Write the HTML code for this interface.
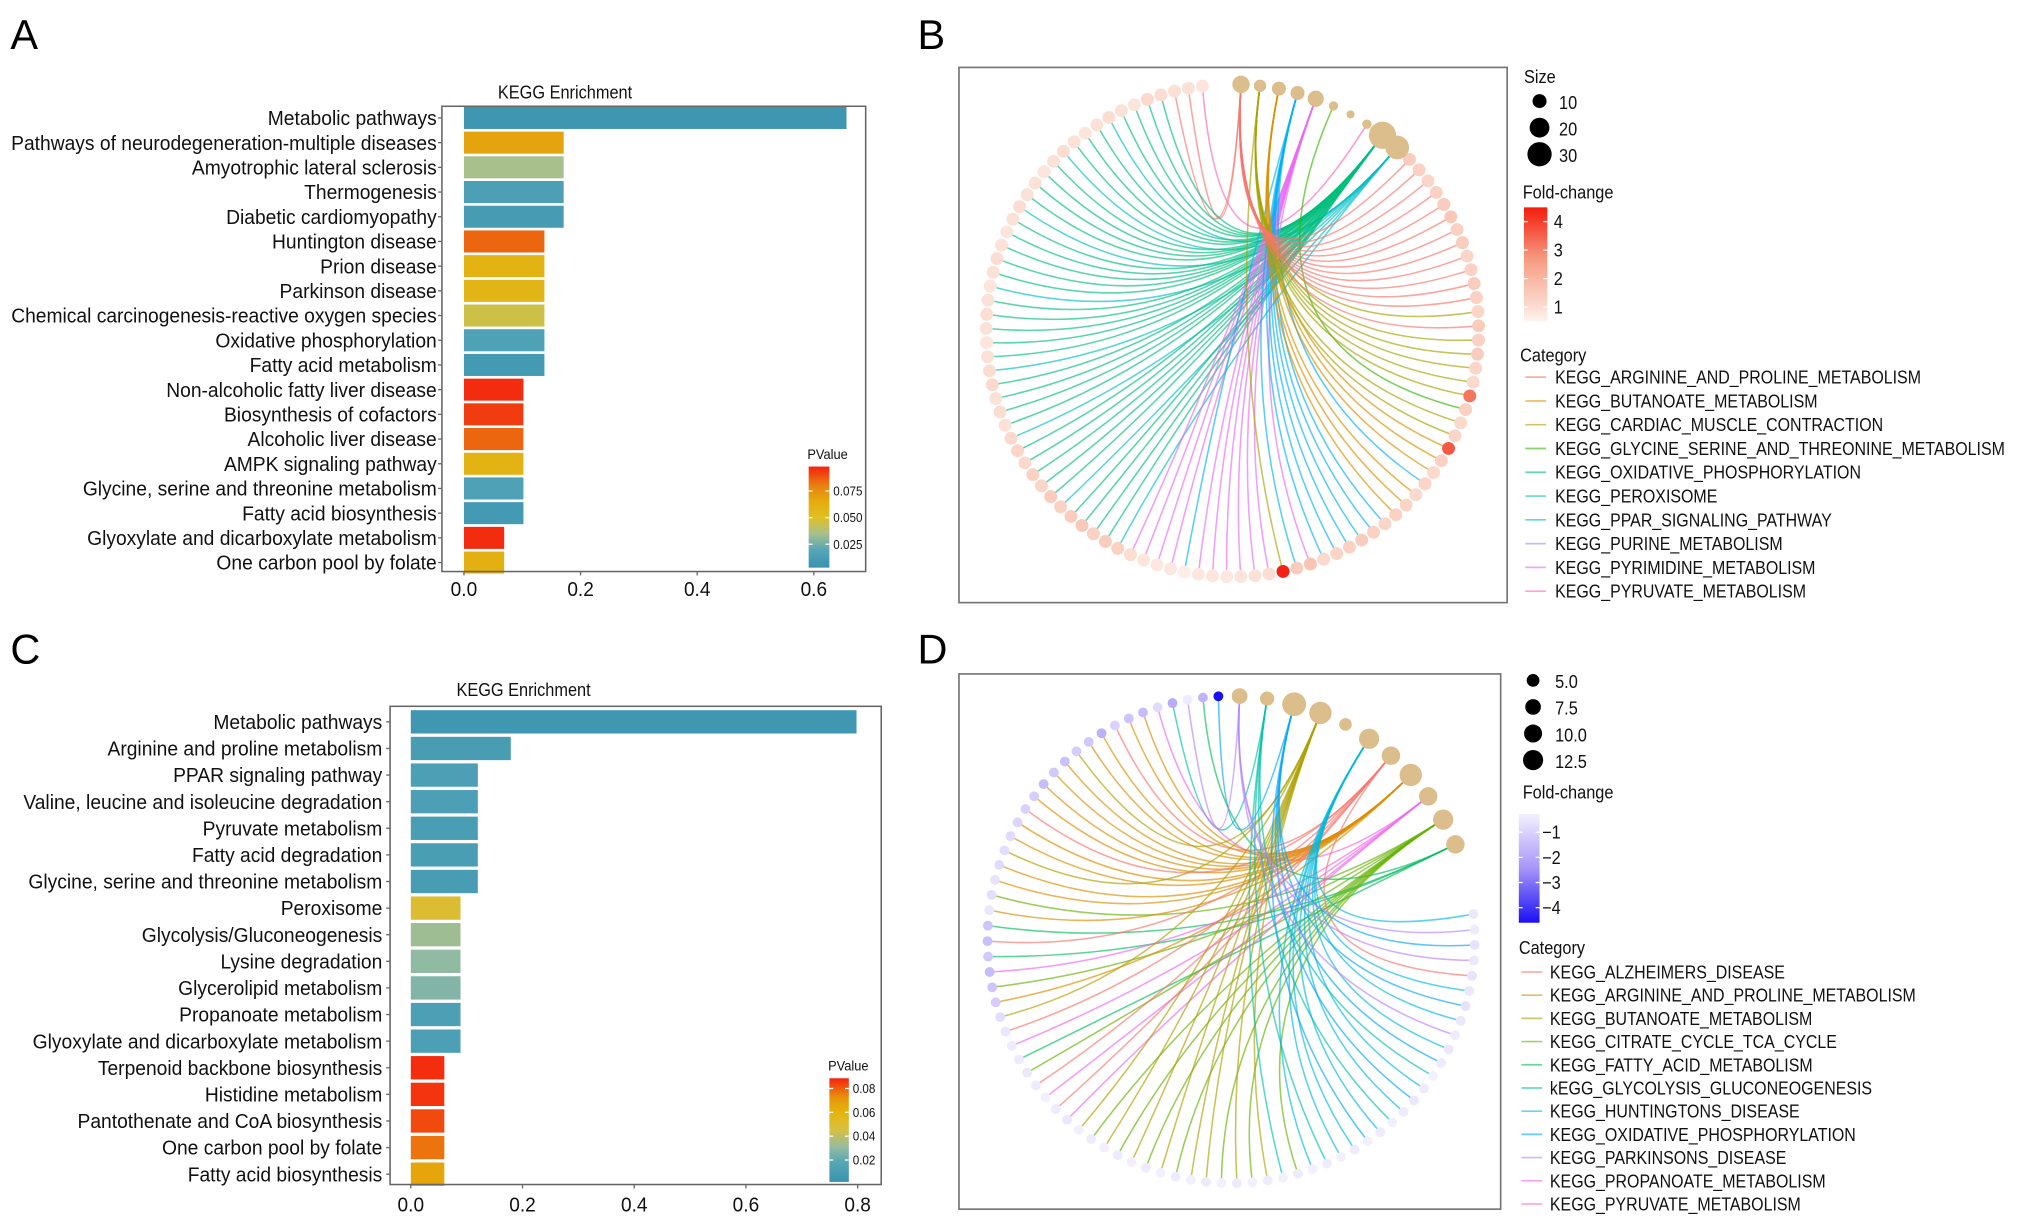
<!DOCTYPE html>
<html><head><meta charset="utf-8">
<style>
html,body{margin:0;padding:0;background:#fff;}
svg{display:block;font-family:"Liberation Sans",Arial,sans-serif;}
</style></head>
<body>
<svg id="fig" width="2032" height="1226" viewBox="0 0 1568 946" preserveAspectRatio="none" xmlns="http://www.w3.org/2000/svg">
<defs>
<linearGradient id="gradA" x1="0" y1="1" x2="0" y2="0"></linearGradient>
<linearGradient id="gradC" x1="0" y1="1" x2="0" y2="0"></linearGradient>
<linearGradient id="gradB" x1="0" y1="1" x2="0" y2="0">
<stop offset="0" stop-color="#fff4f0"/><stop offset="0.15" stop-color="#fbd9cd"/><stop offset="0.55" stop-color="#f69a80"/><stop offset="1" stop-color="#f41c0c"/>
</linearGradient>
<linearGradient id="gradD" x1="0" y1="0" x2="0" y2="1">
<stop offset="0" stop-color="#f3f1fe"/><stop offset="0.5" stop-color="#a795f8"/><stop offset="1" stop-color="#1a10f5"/>
</linearGradient>
</defs>
<text x="8" y="38" font-size="32">A</text>
<text x="708" y="38" font-size="32">B</text>
<text x="8" y="512" font-size="32">C</text>
<text x="708" y="512" font-size="32">D</text>
</svg>
<script>
// ---------- Panel A data ----------
const aCategories = ["Metabolic pathways","Pathways of neurodegeneration-multiple diseases","Amyotrophic lateral sclerosis","Thermogenesis","Diabetic cardiomyopathy","Huntington disease","Prion disease","Parkinson disease","Chemical carcinogenesis-reactive oxygen species","Oxidative phosphorylation","Fatty acid metabolism","Non-alcoholic fatty liver disease","Biosynthesis of cofactors","Alcoholic liver disease","AMPK signaling pathway","Glycine, serine and threonine metabolism","Fatty acid biosynthesis","Glyoxylate and dicarboxylate metabolism","One carbon pool by folate"];
const aValues = [0.656,0.171,0.171,0.171,0.171,0.138,0.138,0.138,0.138,0.138,0.138,0.102,0.102,0.102,0.102,0.102,0.102,0.069,0.069];
const aPvalues = [0.006,0.068,0.035,0.014,0.011,0.085,0.060,0.058,0.045,0.016,0.009,0.096,0.093,0.085,0.060,0.016,0.009,0.096,0.062];
const aTicks = [0,0.2,0.4,0.6];
const aLegendTicks = [0.025,0.050,0.075];
const aLegendTickLabels = ["0.025","0.050","0.075"];
// ---------- Panel C data ----------
const cCategories = ["Metabolic pathways","Arginine and proline metabolism","PPAR signaling pathway","Valine, leucine and isoleucine degradation","Pyruvate metabolism","Fatty acid degradation","Glycine, serine and threonine metabolism","Peroxisome","Glycolysis/Gluconeogenesis","Lysine degradation","Glycerolipid metabolism","Propanoate metabolism","Glyoxylate and dicarboxylate metabolism","Terpenoid backbone biosynthesis","Histidine metabolism","Pantothenate and CoA biosynthesis","One carbon pool by folate","Fatty acid biosynthesis"];
const cValues = [0.798,0.179,0.120,0.120,0.120,0.120,0.120,0.089,0.089,0.089,0.089,0.089,0.089,0.060,0.060,0.060,0.060,0.060];
const cPvalues = [0.005,0.010,0.012,0.012,0.011,0.011,0.010,0.050,0.033,0.030,0.027,0.012,0.012,0.087,0.086,0.083,0.077,0.066];
const cTicks = [0,0.2,0.4,0.6,0.8];
const cLegendTicks = [0.02,0.04,0.06,0.08];
const cLegendTickLabels = ["0.02","0.04","0.06","0.08"];
// ---------- Panel B data ----------
const bCategoryNames = ["KEGG_ARGININE_AND_PROLINE_METABOLISM","KEGG_BUTANOATE_METABOLISM","KEGG_CARDIAC_MUSCLE_CONTRACTION","KEGG_GLYCINE_SERINE_AND_THREONINE_METABOLISM","KEGG_OXIDATIVE_PHOSPHORYLATION","KEGG_PEROXISOME","KEGG_PPAR_SIGNALING_PATHWAY","KEGG_PURINE_METABOLISM","KEGG_PYRIMIDINE_METABOLISM","KEGG_PYRUVATE_METABOLISM"];
const bCategorySize = [14,9,7,4,34,26,9,3,12,4];
const bCategoryOrder = [0,2,1,6,8,3,7,9,4,5];
const bGeneFold = [0.7,0.8,0.8,0.9,1.0,0.7,0.8,0.9,0.8,0.7,0.8,0.9,0.8,0.7,0.8,0.8,0.9,0.8,0.7,0.8,0.9,0.8,0.7,0.8,0.9,0.8,0.7,0.8,0.9,1.0,0.8,0.9,0.8,1.0,1.1,1.0,1.2,1.1,1.3,1.2,1.3,1.4,1.2,1.3,1.2,0.9,0.7,0.6,0.6,0.5,0.6,0.7,0.6,0.7,0.8,0.9,4.5,1.3,1.5,1.0,1.1,1.2,1.3,1.2,1.1,1.2,1.1,1.0,1.1,1.0,1.2,3.6,1.1,1.0,1.2,3.1,1.0,1.1,1.3,1.2,1.3,1.1,1.2,1.3,1.2,1.1,1.3,1.2,1.4,1.3,1.2,1.1,1.2,1.3];
const bGeneCategory = [9,0,0,4,4,4,4,5,4,4,4,5,4,4,4,4,5,4,4,4,4,4,5,4,4,4,4,4,5,4,4,4,4,5,4,4,4,4,4,5,4,4,4,4,5,8,8,8,8,6,8,8,8,8,8,8,2,6,8,6,6,6,6,6,6,1,1,1,6,1,1,1,2,2,3,2,2,2,2,2,0,2,0,0,0,0,0,0,0,0,0,0,0,0];
const bSizeLegend = [10,20,30];
const bFoldTicks = [1,2,3,4];
// ---------- Panel D data ----------
const dCategoryNames = ["KEGG_ALZHEIMERS_DISEASE","KEGG_ARGININE_AND_PROLINE_METABOLISM","KEGG_BUTANOATE_METABOLISM","KEGG_CITRATE_CYCLE_TCA_CYCLE","KEGG_FATTY_ACID_METABOLISM","kEGG_GLYCOLYSIS_GLUCONEOGENESIS","KEGG_HUNTINGTONS_DISEASE","KEGG_OXIDATIVE_PHOSPHORYLATION","KEGG_PARKINSONS_DISEASE","KEGG_PROPANOATE_METABOLISM","KEGG_PYRUVATE_METABOLISM"];
const dCategorySize = [7.5,11,11,9,7.5,4.5,9,12.5,5.5,7.5,3.5];
const dCategoryOrder = [8,5,7,2,10,6,0,1,9,3,4];
const dGeneFold = [-4.6,-1.8,-0.5,-2.0,-0.9,-1.6,-1.4,-1.1,-1.9,-1.3,-1.2,-1.5,-1.3,-1.6,-1.2,-1.1,-1.0,-0.9,-0.8,-0.9,-0.7,-0.8,-0.6,-1.4,-1.5,-1.3,-1.6,-1.4,-1.2,-0.8,-0.6,-0.5,-0.5,-0.6,-0.5,-0.4,-0.5,-0.6,-0.4,-0.5,-0.4,-0.5,-0.4,-0.5,-0.4,-0.5,-0.4,-0.5,-0.4,-0.5,-0.4,-0.5,-0.4,-0.5,-0.4,-0.5,-0.4,-0.5,-0.4,-0.5,-0.4,-0.5,-0.6,-0.5,-0.4,-0.5,-0.6,-0.5,-0.6,-0.7,-0.6,-0.7,-0.6,-0.7,-0.5,-0.6];
const dGeneCategory = [7,4,8,5,9,1,1,0,1,1,2,1,1,1,1,0,1,1,2,1,1,3,1,4,0,4,9,3,1,2,0,9,4,3,0,9,0,9,2,3,2,3,2,3,2,3,2,2,3,2,3,2,5,3,6,5,6,6,7,6,5,6,7,6,5,7,6,8,6,7,6,0,8,7,8,6];
const dSizeLegend = [5.0,7.5,10.0,12.5];
const dSizeLegendLabels = ["5.0","7.5","10.0","12.5"];
const dFoldTicks = [-1,-2,-3,-4];
</script>
<script>
const NS = "http://www.w3.org/2000/svg";
const svg = document.getElementById("fig");
function mk(tag, attrs, parent){
  const e = document.createElementNS(NS, tag);
  for (const k in attrs) e.setAttribute(k, attrs[k]);
  (parent || svg).appendChild(e);
  return e;
}
function hex2rgb(h){return [parseInt(h.slice(1,3),16),parseInt(h.slice(3,5),16),parseInt(h.slice(5,7),16)];}
function interp(stops, v){
  if (v <= stops[0][0]) return stops[0][1];
  for (let i=1;i<stops.length;i++){
    if (v <= stops[i][0]){
      const t=(v-stops[i-1][0])/(stops[i][0]-stops[i-1][0]);
      const a=hex2rgb(stops[i-1][1]), b=hex2rgb(stops[i][1]);
      return "rgb("+a.map((x,j)=>Math.round(x+(b[j]-x)*t)).join(",")+")";
    }
  }
  return stops[stops.length-1][1];
}
function ctext(parent, x, y, size, str, anchor, sx){
  const t = mk("text",{x:0,y:0,"font-size":size,fill:"#111","text-anchor":anchor||"start",
    transform:`translate(${x},${y}) scale(${sx||0.9},1)`},parent);
  t.textContent = str;
  return t;
}
const stopsA = [[0.003,"#3a93b0"],[0.02,"#56a6b6"],[0.035,"#a8c08c"],[0.05,"#e0c024"],[0.065,"#e4ac0c"],[0.08,"#e88010"],[0.098,"#f5220f"]];
const stopsC = [[0.0016,"#3a93b0"],[0.018,"#56a6b6"],[0.031,"#96bca0"],[0.046,"#d8c040"],[0.06,"#e5b40c"],[0.072,"#e8960c"],[0.0886,"#f5220f"]];
function fillGrad(id, stops){
  const g=document.getElementById(id);
  const lo=stops[0][0], hi=stops[stops.length-1][0];
  stops.forEach(s=>mk("stop",{offset:(s[0]-lo)/(hi-lo),"stop-color":s[1]},g));
}
fillGrad("gradA", stopsA); fillGrad("gradC", stopsC);

function barChart(cfg){
  const g = mk("g",{});
  
  
  const xs = v => cfg.x0 + v*cfg.ppu;
  const ys = i => cfg.y0 + i*cfg.step;
  const t = ctext(g, cfg.titleX, cfg.titleY, 14, "KEGG Enrichment", "middle", 0.9);
  
  
  cfg.cats.forEach((c,i)=>{
    const r = mk("rect",{x:xs(0),y:ys(i)-cfg.barH/2,width:xs(cfg.vals[i])-xs(0),height:cfg.barH,fill:interp(cfg.stops,cfg.pv[i])},g);
    
    
    const l = ctext(g, cfg.labelX, ys(i)+5.5, 15.8, c, "end", cfg.sx);
    
    
    mk("line",{x1:cfg.box[0]-3,x2:cfg.box[0],y1:ys(i),y2:ys(i),stroke:"#666","stroke-width":1},g);
  });
  const b = mk("rect",{x:cfg.box[0],y:cfg.box[1],width:cfg.box[2],height:cfg.box[3],fill:"none",stroke:"#666","stroke-width":1.2},g);
  
  
  cfg.ticks.forEach(v=>{
    mk("line",{x1:xs(v),x2:xs(v),y1:cfg.box[1]+cfg.box[3],y2:cfg.box[1]+cfg.box[3]+3,stroke:"#666"},g);
    const tl = ctext(g, xs(v), cfg.tickY, 16, v.toFixed(1), "middle", 0.92);
    
    
  });
  const L = cfg.leg;
  const lt = ctext(g, L.x-1, L.y-6, 11, "PValue", "start", 0.9);
  
  
  const cb = mk("rect",{x:L.x,y:L.y,width:L.w,height:L.h,fill:"url(#"+L.grad+")"},g);
  
  
  const ly = v => L.y + L.h - (v-L.lo)/(L.hi-L.lo)*L.h;
  L.ticks.forEach((v,i)=>{
    mk("line",{x1:L.x,x2:L.x+3,y1:ly(v),y2:ly(v),stroke:"#fff"},g);
    mk("line",{x1:L.x+L.w-3,x2:L.x+L.w,y1:ly(v),y2:ly(v),stroke:"#fff"},g);
    const tx = ctext(g, L.x+L.w+3, ly(v)+3.5, 10, L.labels[i], "start", 0.9);
    
    
  });
}
barChart({name:"kegg-bar-chart-a",cats:aCategories,vals:aValues,pv:aPvalues,stops:stopsA,ticks:aTicks,sx:0.94,
  x0:358,ppu:450,y0:91,step:19.06,barH:17,labelX:337,box:[341,82,327,359],tickY:460,titleX:436,titleY:76,
  leg:{x:624,y:360,w:16,h:78,lo:0.003,hi:0.098,grad:"gradA",ticks:aLegendTicks,labels:aLegendTickLabels}});
barChart({name:"kegg-bar-chart-c",cats:cCategories,vals:cValues,pv:cPvalues,stops:stopsC,ticks:cTicks,sx:0.94,
  x0:317,ppu:431,y0:557,step:20.53,barH:18,labelX:295,box:[301,545,379,369],tickY:935,titleX:404,titleY:537,
  leg:{x:640,y:832,w:15,h:80,lo:0.0016,hi:0.0886,grad:"gradC",ticks:cLegendTicks,labels:cLegendTickLabels}});

const hues10 = ["#F8766D","#D89000","#A3A500","#39B600","#00BF7D","#00BFC4","#00B0F6","#9590FF","#E76BF3","#FF62BC"];
const hues11 = ["#F8766D","#DB8E00","#AEA200","#64B200","#00BD5C","#00C1A7","#00BADE","#00A6FF","#B385FF","#EF67EB","#FF63B6"];

function network(cfg){
  const g = mk("g",{});
  
  
  const b = mk("rect",{x:cfg.box[0],y:cfg.box[1],width:cfg.box[2],height:cfg.box[3],fill:"none",stroke:"#777","stroke-width":1.3},g);
  
  
  const pos = a => [cfg.cx + cfg.r*Math.cos(a*Math.PI/180), cfg.cy - cfg.r*Math.sin(a*Math.PI/180)];
  const n = cfg.fold.length;
  const genePos = cfg.fold.map((f,i)=>pos(cfg.a0 + i*(cfg.a1-cfg.a0)/(n-1)));
  const catPos = [];
  cfg.order.forEach((c,k)=>{ catPos[c] = pos(cfg.c0 + k*(cfg.c1-cfg.c0)/(cfg.order.length-1)); });
  cfg.gcat.forEach((c,i)=>{
    const p = genePos[i], q = catPos[c];
    const e = mk("path",{d:`M${p[0].toFixed(1)},${p[1].toFixed(1)} Q${cfg.qx},${cfg.qy} ${q[0].toFixed(1)},${q[1].toFixed(1)}`,fill:"none",stroke:cfg.hues[c],"stroke-width":1.2,"stroke-opacity":0.65},g);
    
    
  });
  cfg.fold.forEach((f,i)=>{
    const c = mk("circle",{cx:genePos[i][0],cy:genePos[i][1],r:cfg.geneR,fill:interp(cfg.fstops,f)},g);
    
    
  });
  cfg.order.forEach(c=>{
    const nd = mk("circle",{cx:catPos[c][0],cy:catPos[c][1],r:cfg.sizeR(cfg.csize[c]),fill:"#dcbd8c"},g);
    
    
  });
}
network({name:"gene-concept-network-b",box:[740,52,423,413],cx:951,cy:255,r:190,a0:97,a1:404,c0:88,c1:48,qx:945,qy:270,
  fold:bGeneFold,gcat:bGeneCategory,order:bCategoryOrder,csize:bCategorySize,hues:hues10,geneR:5,
  sizeR:s=>1.8*Math.sqrt(s),
  fstops:[[0.3,"#fff4f0"],[1,"#fbd9cd"],[2.5,"#f69a80"],[4.6,"#f41c0c"]]});
network({name:"gene-concept-network-d",box:[740,520,418,413],cx:950,cy:725,r:188,a0:93,a1:366,c0:88,c1:23,qx:945,qy:740,
  fold:dGeneFold,gcat:dGeneCategory,order:dCategoryOrder,csize:dCategorySize,hues:hues11,geneR:3.8,
  sizeR:s=>2.6*Math.sqrt(s),
  fstops:[[-4.6,"#1a10f5"],[-2.5,"#a795f8"],[-1.0,"#ddd6fc"],[-0.3,"#f5f3fe"]]});

function txt(x,y,s,str,name,sx){
  const t = ctext(svg, x, y, s, str, "start", sx||0.9);
  
  
  return t;
}
// Legend B
txt(1176,64,14,"Size","size-legend-title");
bSizeLegend.forEach((s,i)=>{
  const c = mk("circle",{cx:1188,cy:78+i*20.5,r:1.8*Math.sqrt(s)*0.95,fill:"#000"});
  
  
  txt(1203,84+i*20.5,14,String(s),"size-legend-label");
});
txt(1175,153,14,"Fold-change","fold-legend-title");
{
  const r = mk("rect",{x:1176,y:160,width:18,height:88,fill:"url(#gradB)"});
  
  
  const fy = v => 248 - (v-0.5)/(4.5-0.5)*88;
  bFoldTicks.forEach(v=>{
    mk("line",{x1:1176,x2:1179,y1:fy(v),y2:fy(v),stroke:"#fff"});
    mk("line",{x1:1191,x2:1194,y1:fy(v),y2:fy(v),stroke:"#fff"});
    txt(1199,fy(v)+5,14,String(v),"fold-legend-label");
  });
}
txt(1173,279,14,"Category","category-legend-title");
bCategoryNames.forEach((nm,i)=>{
  const y = 291+i*18.35;
  const l = mk("line",{x1:1177,x2:1193,y1:y,y2:y,stroke:hues10[i],"stroke-width":1.3,"stroke-opacity":0.6});
  
  
  txt(1200,y+5,14,nm,"legend-entry",0.88);
});
// Legend D
dSizeLegend.forEach((s,i)=>{
  const c = mk("circle",{cx:1183,cy:525+i*20.5,r:2.2*Math.sqrt(s)*1.0,fill:"#000"});
  
  
  txt(1200,531+i*20.5,14,dSizeLegendLabels[i],"size-legend-label");
});
txt(1175,616,14,"Fold-change","fold-legend-title");
{
  const r = mk("rect",{x:1172,y:628,width:16,height:84,fill:"url(#gradD)"});
  
  
  const fy = v => 628 + (-0.27 - v)/(4.6-0.27)*84;
  dFoldTicks.forEach(v=>{
    mk("line",{x1:1172,x2:1175,y1:fy(v),y2:fy(v),stroke:"#fff"});
    mk("line",{x1:1185,x2:1188,y1:fy(v),y2:fy(v),stroke:"#fff"});
    txt(1190,fy(v)+5,14,"\u2212"+Math.abs(v),"fold-legend-label");
  });
}
txt(1172,736,14,"Category","category-legend-title");
dCategoryNames.forEach((nm,i)=>{
  const y = 750+i*17.9;
  const l = mk("line",{x1:1174,x2:1190,y1:y,y2:y,stroke:hues11[i],"stroke-width":1.3,"stroke-opacity":0.6});
  
  
  txt(1196,y+5,14,nm,"legend-entry",0.88);
});
</script>
</body></html>
